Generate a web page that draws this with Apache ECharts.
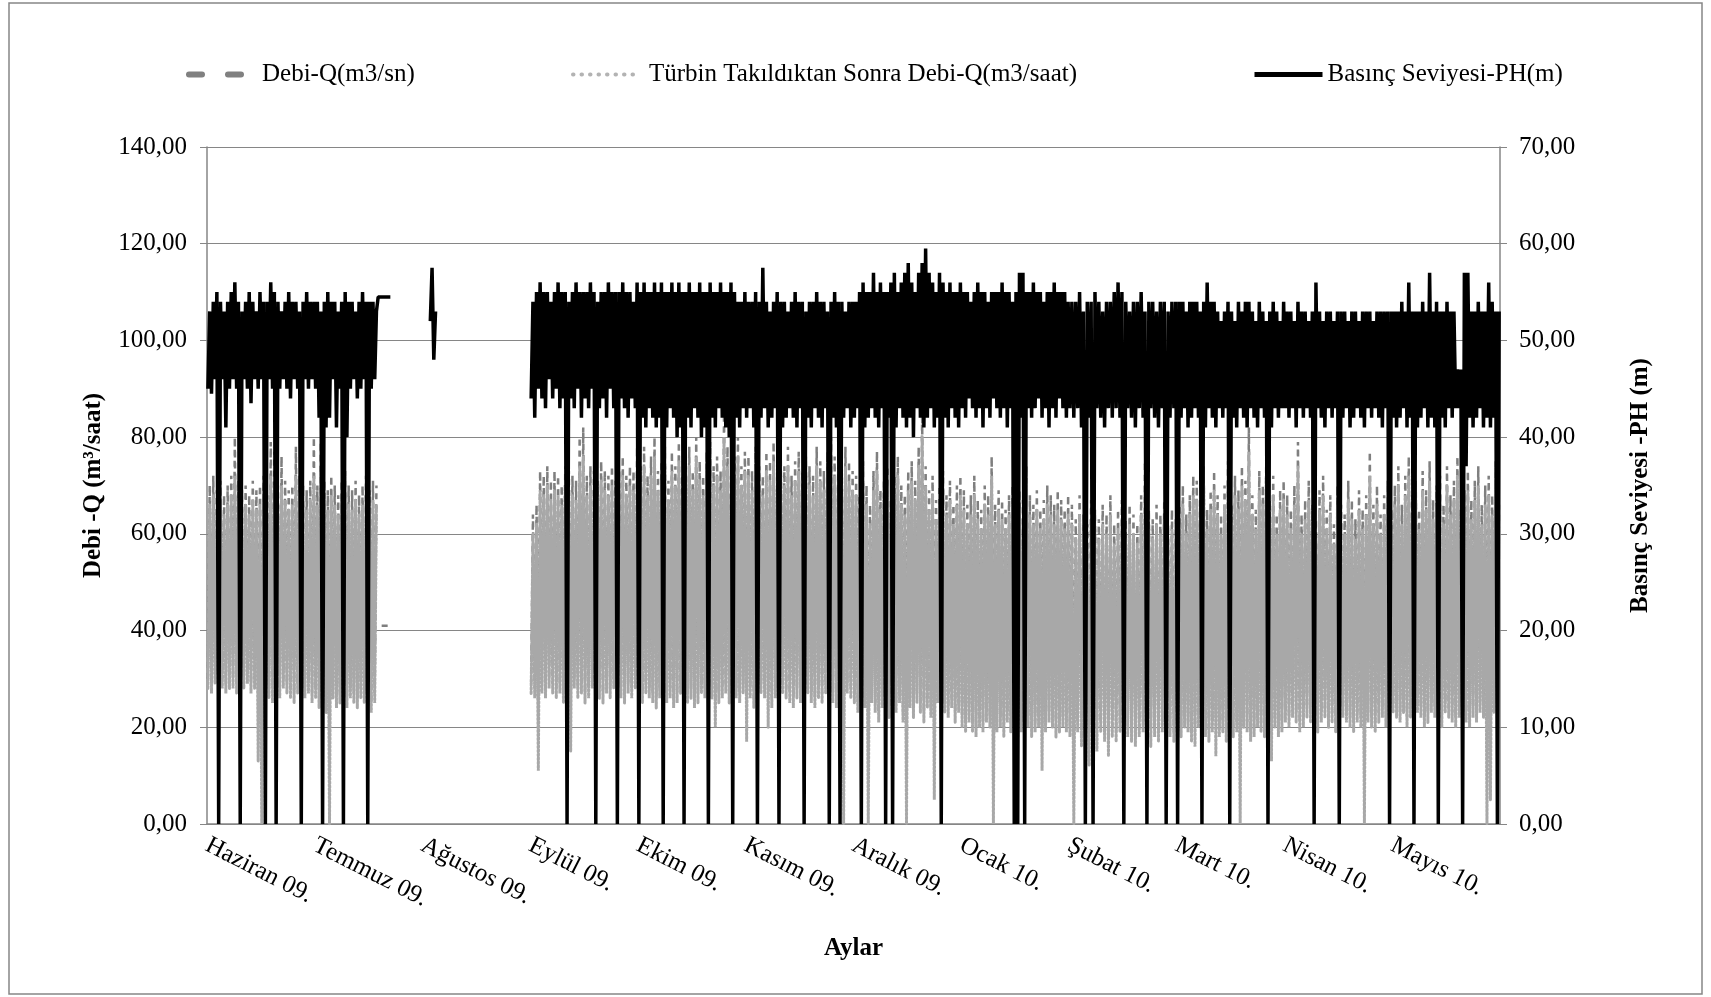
<!DOCTYPE html>
<html>
<head>
<meta charset="utf-8">
<title>Debi ve Basınç Seviyesi</title>
<script src="https://cdn.jsdelivr.net/npm/echarts/dist/echarts.min.js"></script>
<style>
  html, body { margin: 0; padding: 0; background: #fff; }
  #chart { width: 1711px; height: 997px; }
</style>
</head>
<body>
<div id="chart"></div>
<script>
// Months on the x axis (June 2009 – May 2010) and their lengths in days
const monthLabels = ['Haziran 09.', 'Temmuz 09.', 'Ağustos 09.', 'Eylül 09.', 'Ekim 09.', 'Kasım 09.',
  'Aralık 09.', 'Ocak 10.', 'Şubat 10.', 'Mart 10.', 'Nisan 10.', 'Mayıs 10.'];
const monthDays = [30, 31, 31, 30, 31, 30, 31, 31, 28, 31, 30, 31];

// Pressure level PH (m): daily high / daily low, one inner array per month.
// Missing days (no record) are left out / null.
const phHi = [
  [53,54,55,54,53,54,55,56,54,53,54,55,54,53,55,54,54,56,55,54,53,54,55,54,54,53,54,55,54,54],
  [54,53,54,55,54,54,53,54,55,54,54,53,54,55,54,54,54,53,54.5,54.5,54.5,54.5],
  [null,null,57.5,53],
  [54,55,56,55,55,54,55,56,55,55,54,55,56,55,55,55,56,55,54,55,55,56,55,55,55,56,55,55,54,56],
  [55,56,55,55,56,55,56,55,55,56,55,56,55,55,56,55,55,56,55,55,56,55,55,56,55,55,56,55,54,54,55],
  [54,54,55,54,57.5,54,53,54,55,54,54,53,54,55,54,54,53,54,54,55,54,54,53,54,55,54,54,53,54,54],
  [54,55,56,55,55,57,55,56,55,55,56,57,55,56,57,58,56,55,57,58,59.5,57,56,55,57,56,55,56,55,55,56],
  [55,55,54,55,56,55,55,54,55,55,55,56,55,55,54,55,57,57,55,55,56,55,55,54,55,55,56,55,55,55,54],
  [54,54,55,53,54,54,55,54,53,54,54,55,56,55,54,53,54,54,55,53,54,54,53,54,54,53,54,54],
  [54,54,53,54,54,54,53,54,56,54,54,53,52,53,54,53,52,54,53,54,54,53,52,54,53,52,53,54,53,52,54],
  [53,53,52,54,53,53,52,53,56,53,52,53,53,52,53,53,53,52,53,53,52,53,53,53,52,53,53,53,53,53],
  [53,53,54,53,56,53,53,53,54,53,57,53,54,53,53,54,53,53,47,47,57,57,53,53,54,53,53,56,54,53,53]
];
const phLo = [
  [45,44.5,46,0,46,41,45,46,45,0,46,45,43.5,46,45,46,0,46,45,0,45,46,45,44,46,45,0,46,45,46],
  [45,42,0,41,42,46,41,45,0,40,45,46,44,45,46,0,45,46,54.5,54.5,54.5,54.5],
  [null,null,52,48],
  [44,42,45,44,43,46,44,45,43,44,0,44,43,45,42,44,43,45,0,43,44,42,45,43,0,44,43,42,44,43],
  [0,42,41,43,42,41,42,0,41,43,42,40,41,0,42,41,43,42,40,41,0,42,41,43,42,41,40,0,42,41,43],
  [42,43,41,0,42,43,41,42,43,0,41,42,43,42,41,43,0,42,41,43,42,41,43,0,42,41,0,42,43,41],
  [42,43,0,41,42,43,42,41,43,0,42,0,41,43,42,41,42,40,43,42,41,42,43,41,42,0,42,41,43,42,41],
  [43,42,44,43,42,43,41,43,42,44,43,42,43,41,43,0,0,42,0,43,42,43,44,42,43,41,43,42,44,43,42],
  [43,42,43,41,0,42,0,43,42,41,43,42,43,42,0,43,42,41,43,42,0,43,42,41,43,0,42,43],
  [0,42,43,41,42,43,42,0,41,43,42,41,43,42,43,0,42,41,43,42,41,43,42,41,43,42,0,41,43,42,43],
  [43,42,43,41,43,42,43,42,0,43,42,41,43,42,43,0,42,43,41,42,43,42,41,43,42,43,42,41,43,0],
  [42,41,42,43,41,42,0,41,42,43,41,42,41,0,42,41,43,42,43,43,0,37,42,41,42,43,41,42,41,42,0]
];

// Flow Debi-Q (m3/sn): daily high / daily low
const qHi = [
  [70,72,69,71,68,70,72,80,71,69,70,68,71,69,70,72,68,79,77,70,76,71,69,70,78,72,70,69,71,80],
  [70,79,71,69,72,70,68,71,73,70,69,71,68,70,72,69,71,70,null,41,41,41],
  [],
  [64,66,73,72,74,71,73,72,70,74,73,72,71,80,82,72,74,73,71,75,73,72,74,71,73,76,72,74,73,78],
  [74,78,72,76,80,73,75,78,71,77,74,79,72,76,78,73,80,75,72,77,79,74,76,73,85,78,72,76,80,74,77],
  [76,73,78,74,72,77,75,79,73,76,74,78,72,75,77,73,76,74,72,78,75,73,77,80,76,74,72,78,75,73],
  [72,68,75,70,66,73,77,69,71,74,67,72,76,70,68,73,75,71,78,85,74,69,72,67,70,73,68,71,66,70,72],
  [69,66,68,72,67,65,70,68,76,66,69,67,65,68,70,66,69,67,74,68,66,69,65,67,70,68,66,69,67,65,68],
  [66,63,68,64,62,67,65,63,66,64,68,62,65,67,63,66,64,62,68,75,65,63,66,64,67,62,65,63],
  [66,70,64,68,72,71,67,74,65,69,73,68,64,70,75,66,72,69,74,71,82,68,65,73,70,76,67,72,64,69,71],
  [68,65,70,79,64,67,71,66,63,69,72,65,68,62,70,66,64,71,67,63,69,65,68,77,66,70,64,68,71,65],
  [70,74,66,72,76,68,71,65,73,69,75,67,70,72,66,74,68,71,76,65,69,73,67,71,74,66,70,72,68,75,66]
];
const qLo = [
  [30,29,31,28,30,29,31,30,29,28,30,31,29,30,27,26,29,28,27,29,28,30,29,28,27,29,30,28,29,27],
  [28,26,27,25,27,28,26,27,25,26,28,27,26,28,27,26,25,27,null,41,41,41],
  [],
  [29,28,30,29,28,30,29,28,29,27,28,29,30,28,29,27,28,30,29,28,27,29,28,30,29,28,27,29,28,30],
  [28,27,29,28,27,26,28,29,27,28,26,27,29,28,27,28,26,27,29,28,27,28,26,27,28,29,27,26,28,27,29],
  [27,28,26,27,29,28,27,26,28,27,29,28,27,26,28,27,28,29,27,26,28,27,29,28,27,26,28,27,29,28],
  [27,25,28,26,24,27,25,23,26,28,24,26,25,27,23,25,26,24,27,25,23,26,24,25,27,23,25,24,26,23,25],
  [22,21,23,21,20,22,21,23,22,20,21,22,20,23,21,22,20,21,23,22,20,21,22,20,21,23,22,20,21,22,21],
  [20,19,21,18,20,19,18,20,21,19,18,20,19,21,18,20,19,18,20,21,19,18,20,19,21,18,20,19],
  [21,20,22,21,19,20,22,21,20,19,21,22,20,21,19,22,20,21,20,22,21,19,20,22,21,20,19,21,22,20,21],
  [23,22,24,23,21,22,24,23,22,21,23,24,22,23,21,22,24,23,22,21,23,22,24,23,22,21,23,24,22,23],
  [25,24,23,25,22,24,23,25,24,22,23,25,24,23,22,25,24,23,22,24,25,23,22,24,23,25,22,24,23,25,24]
];

// Flow after the turbine was installed, Debi-Q (m3/saat): daily high / daily low
const tHi = [
  [66,68,65,67,64,66,68,72,67,65,66,64,67,65,66,68,64,72,70,66,70,67,65,66,72,68,66,65,67,72],
  [66,74,67,65,68,66,64,67,68,66,65,67,64,66,68,65,67,66],
  [],
  [60,62,69,68,70,67,69,68,66,70,69,68,67,74,76,68,70,69,67,71,69,68,70,67,69,72,68,70,69,73],
  [70,74,68,72,76,69,71,74,67,73,70,75,68,72,74,69,76,71,68,73,75,70,72,69,80,74,68,72,76,70,73],
  [72,69,74,70,68,73,71,75,69,72,70,74,68,71,73,69,72,70,68,74,71,69,73,76,72,70,68,74,71,69],
  [68,64,71,66,62,69,73,65,67,70,63,68,72,66,64,69,71,67,74,80,70,65,68,63,66,69,64,67,62,66,68],
  [65,62,64,68,63,61,66,64,72,62,65,63,61,64,66,62,65,63,70,64,62,65,61,63,66,64,62,65,63,61,64],
  [62,59,64,60,58,63,61,59,62,60,64,58,61,63,59,62,60,58,64,70,61,59,62,60,63,58,61,59],
  [62,66,60,64,68,67,63,70,61,65,69,64,60,66,71,62,68,65,70,67,77,64,61,69,66,72,63,68,60,65,67],
  [64,61,66,74,60,63,67,62,59,65,68,61,64,58,66,62,60,67,63,59,65,61,64,72,62,66,60,64,67,61],
  [66,70,62,68,72,64,67,61,69,65,71,63,66,68,62,70,64,67,72,61,65,69,63,67,70,62,66,68,64,71,62]
];
const tLo = [
  [28,27,29,26,28,27,28,28,27,26,28,29,27,28,13,0,27,26,25,27,26,28,27,26,25,27,28,26,27,25],
  [26,24,25,23,0,26,24,25,23,24,26,25,24,26,25,24,23,25],
  [],
  [27,26,11,27,26,28,27,26,27,25,26,15,28,26,27,25,26,28,27,26,25,27,26,28,27,26,25,27,26,28],
  [26,25,27,26,25,24,26,27,25,26,24,25,27,26,25,26,24,25,27,26,25,26,20,25,26,27,25,24,26,25,27],
  [17,26,24,25,27,26,20,24,26,25,27,26,25,24,26,25,26,27,25,24,26,25,27,26,25,24,26,0,27,26],
  [25,23,26,24,0,25,23,21,24,26,22,24,23,25,21,0,24,22,25,23,21,24,22,5,25,21,23,22,24,21,23],
  [20,19,21,19,18,20,19,21,20,0,19,20,18,21,19,20,18,19,21,20,18,19,20,11,19,21,20,18,19,20,19],
  [18,0,19,16,18,12,16,15,19,17,14,18,17,19,16,18,17,16,18,19,17,16,18,17,19,16,18,17],
  [19,18,20,19,17,16,20,19,18,17,19,14,18,19,17,20,18,19,0,20,19,17,18,20,19,18,17,13,20,18,19],
  [21,20,22,21,19,20,22,21,20,19,21,22,20,21,19,20,22,21,20,19,21,20,0,21,20,19,21,22,20,21],
  [23,22,21,23,20,22,21,23,22,20,21,23,22,21,20,23,22,21,20,22,23,21,20,22,21,23,22,0,5,23,22]
];

// Left axis ticks (m3/saat) and right axis ticks (m)
const leftTicks = { min: 0, max: 140, step: 20 };
const rightTicks = { min: 0, max: 70, step: 10 };

// Turn daily low/high pairs into a line path on a month-based x axis:
// the low sits in the first half of the day, the high in the second half.
function buildSeries(hi, lo) {
  const pts = [];
  for (let m = 0; m < monthDays.length; m++) {
    const n = monthDays[m];
    for (let d = 0; d < n; d++) {
      const h = hi[m][d], l = lo[m][d];
      if (h == null || l == null) {
        if (pts.length && pts[pts.length - 1][1] !== '-') pts.push([m + d / n, '-']);
        continue;
      }
      pts.push([m + (d + 0.25) / n, l]);
      pts.push([m + (d + 0.75) / n, h]);
    }
  }
  return pts;
}

const FONT = 'Liberation Serif';
const AXIS_GRAY = '#868686';
const fmt = v => v.toFixed(2).replace('.', ',');

const chart = echarts.init(document.getElementById('chart'), null, { renderer: 'canvas' });

const legendText = { fontFamily: FONT, fontSize: 25, color: '#000' };
function legendAt(left, width, name, lineStyle, gap) {
  return {
    left: left,
    top: 62,
    padding: 0,
    itemWidth: width,
    itemHeight: 14,
    selectedMode: false,
    data: [name],
    lineStyle: lineStyle,
    itemStyle: { opacity: 0 },
    textStyle: Object.assign({}, legendText, { padding: [0, 0, 0, gap] })
  };
}

chart.setOption({
  backgroundColor: '#fff',
  animation: false,
  graphic: [{
    type: 'rect',
    shape: { x: 9, y: 3, width: 1693, height: 991 },
    style: { fill: 'none', stroke: AXIS_GRAY, lineWidth: 1.5 },
    silent: true
  }],
  legend: [
    legendAt(186, 56, 'Debi-Q(m3/sn)',
      { color: '#808080', width: 6, type: [13, 26], cap: 'round' }, 12),
    legendAt(571, 66, 'Türbin Takıldıktan Sonra Debi-Q(m3/saat)',
      { color: '#b3b3b3', width: 4, type: [0.5, 8], cap: 'round' }, 5),
    legendAt(1252, 68, 'Basınç Seviyesi-PH(m)',
      { color: '#000', width: 5 }, 0)
  ],
  grid: { left: 207, right: 211, top: 147, bottom: 173, containLabel: false },
  xAxis: {
    type: 'value',
    min: 0,
    max: monthLabels.length,
    interval: 1,
    name: 'Aylar',
    nameLocation: 'middle',
    nameGap: 112,
    nameTextStyle: { fontFamily: FONT, fontSize: 25, fontWeight: 'bold', color: '#000' },
    axisLine: { show: true, lineStyle: { color: AXIS_GRAY, width: 1.5 } },
    axisTick: { show: false },
    splitLine: { show: false },
    axisLabel: {
      rotate: -27,
      margin: 20,
      showMaxLabel: false,
      fontFamily: FONT, fontSize: 25, color: '#000',
      formatter: v => monthLabels[Math.round(v)] || ''
    }
  },
  yAxis: [{
    type: 'value',
    min: leftTicks.min, max: leftTicks.max, interval: leftTicks.step,
    name: 'Debi -Q (m³/saat)',
    nameLocation: 'middle',
    nameRotate: 90,
    nameGap: 101,
    nameTextStyle: { fontFamily: FONT, fontSize: 25, fontWeight: 'bold', color: '#000' },
    axisLine: { show: true, lineStyle: { color: AXIS_GRAY, width: 1.5 } },
    axisTick: { show: true, inside: false, length: 7, lineStyle: { color: AXIS_GRAY } },
    splitLine: { show: true, lineStyle: { color: AXIS_GRAY, width: 1.2 } },
    axisLabel: { margin: 20, fontFamily: FONT, fontSize: 25, color: '#000', formatter: fmt }
  }, {
    type: 'value',
    min: rightTicks.min, max: rightTicks.max, interval: rightTicks.step,
    name: 'Basınç Seviyesi -PH (m)',
    nameLocation: 'middle',
    nameRotate: 90,
    nameGap: 128,
    nameTextStyle: { fontFamily: FONT, fontSize: 25, fontWeight: 'bold', color: '#000' },
    axisLine: { show: true, lineStyle: { color: AXIS_GRAY, width: 1.5 } },
    axisTick: { show: true, inside: false, length: 7, lineStyle: { color: AXIS_GRAY } },
    splitLine: { show: false },
    axisLabel: { margin: 19, fontFamily: FONT, fontSize: 25, color: '#000', formatter: fmt }
  }],
  series: [{
    name: 'Debi-Q(m3/sn)',
    type: 'line',
    yAxisIndex: 0,
    data: buildSeries(qHi, qLo),
    symbol: 'none',
    silent: true,
    connectNulls: false,
    itemStyle: { color: '#808080' },
    lineStyle: { color: '#7f7f7f', width: 2.5, type: [6, 5] },
    z: 2
  }, {
    name: 'Türbin Takıldıktan Sonra Debi-Q(m3/saat)',
    type: 'line',
    yAxisIndex: 0,
    data: buildSeries(tHi, tLo),
    symbol: 'none',
    silent: true,
    connectNulls: false,
    itemStyle: { color: '#a8a8a8' },
    lineStyle: { color: '#a8a8a8', width: 3, type: [2, 2], cap: 'round' },
    z: 3
  }, {
    name: 'Basınç Seviyesi-PH(m)',
    type: 'line',
    yAxisIndex: 1,
    data: buildSeries(phHi, phLo),
    symbol: 'none',
    silent: true,
    connectNulls: false,
    itemStyle: { color: '#000' },
    lineStyle: { color: '#000', width: 3.5 },
    z: 4
  }]
});
</script>
</body>
</html>
